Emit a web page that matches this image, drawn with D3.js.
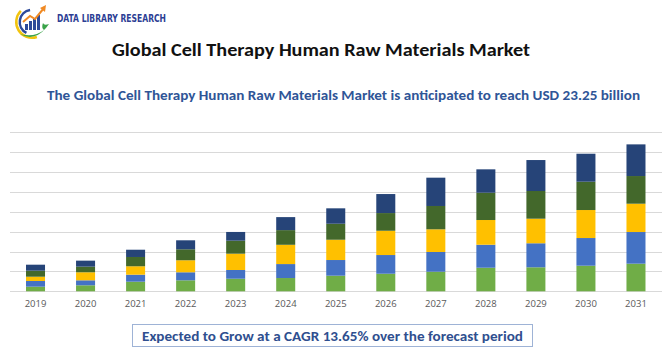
<!DOCTYPE html>
<html>
<head>
<meta charset="utf-8">
<script src="https://cdn.jsdelivr.net/npm/d3@7"></script>
<style>
  html, body { margin: 0; padding: 0; background: #fff; }
  svg { display: block; font-family: Carlito, Calibri, "Open Sans", "Liberation Sans", sans-serif; }
</style>
</head>
<body>
<div id="chart"></div>
<script>
// values in USD billion
var years = ['2019', '2020', '2021', '2022', '2023', '2024', '2025', '2026', '2027', '2028', '2029', '2030', '2031'];
var seriesNames = ['s1', 's2', 's3', 's4', 's5'];
var s1 = [0.73, 0.95, 1.52, 1.74, 1.99, 2.10, 2.47, 2.78, 3.10, 3.73, 3.80, 4.05, 4.37];
var s2 = [0.90, 0.79, 1.11, 1.27, 1.38, 2.21, 2.48, 2.96, 3.12, 3.64, 3.80, 4.38, 5.01];
var s3 = [0.68, 1.27, 1.33, 1.90, 2.58, 3.05, 3.21, 3.84, 3.59, 3.91, 3.89, 4.43, 4.48];
var s4 = [0.95, 0.89, 1.47, 1.74, 2.06, 2.32, 2.53, 2.80, 3.69, 4.32, 4.38, 4.48, 4.38];
var s5 = [0.95, 0.95, 1.15, 1.42, 1.38, 2.06, 2.44, 3.01, 4.48, 3.70, 4.90, 4.43, 5.01];
var colors = ['#70ad47', '#4472c4', '#ffc000', '#43682b', '#264478'];
var yMax = 25.16;

var width = 670, height = 350;

var svg = d3.select('#chart').append('svg')
    .attr('width', width)
    .attr('height', height);

// logo
var logo = svg.append('g').attr('transform', 'translate(32,22)');
logo.append('path')
    .attr('d', d3.arc()({innerRadius: 14.5, outerRadius: 17, startAngle: Math.PI * 0.9, endAngle: Math.PI * 1.75}))
    .attr('fill', '#f2c40f');
logo.append('path')
    .attr('d', d3.arc()({innerRadius: 11, outerRadius: 13.5, startAngle: Math.PI * 1.15, endAngle: Math.PI * 1.95}))
    .attr('fill', '#2d4a9a');
[[-7, 6], [-3, 9], [1, 12], [5, 15]].forEach(function(b) {
    logo.append('rect').attr('x', b[0]).attr('y', 8 - b[1]).attr('width', 3).attr('height', b[1]).attr('fill', '#2d4a9a');
});
logo.append('path')
    .attr('d', 'M-9,0 L-2,-6 L3,-3 L12,-14')
    .attr('fill', 'none').attr('stroke', '#f08a24').attr('stroke-width', 2);
logo.append('path').attr('d', 'M14,-17 L8,-14 L13,-10 Z').attr('fill', '#f08a24');
logo.append('path')
    .attr('d', 'M-12,12 Q2,20 14,6 L17,2 Q12,4 11,1 Q9,6 12,8 Q2,16 -12,12 Z')
    .attr('fill', '#3aa34a');

svg.append('text')
    .attr('x', 57).attr('y', 22)
    .attr('textLength', 109).attr('lengthAdjust', 'spacingAndGlyphs')
    .style('font-family', '"DejaVu Sans Condensed", "Liberation Sans Narrow", sans-serif')
    .style('font-weight', 'bold').style('font-size', '10.5px')
    .attr('fill', '#2c3e94')
    .text('DATA LIBRARY RESEARCH');

// title texts
svg.append('text')
    .attr('x', 112).attr('y', 56)
    .attr('textLength', 418).attr('lengthAdjust', 'spacingAndGlyphs')
    .style('font-weight', 'bold').style('font-size', '18px')
    .attr('fill', '#111')
    .text('Global Cell Therapy Human Raw Materials Market');

svg.append('text')
    .attr('x', 47).attr('y', 100)
    .attr('textLength', 593).attr('lengthAdjust', 'spacingAndGlyphs')
    .style('font-weight', 'bold').style('font-size', '14.5px')
    .attr('fill', '#2f5597')
    .text('The Global Cell Therapy Human Raw Materials Market is anticipated to reach USD 23.25  billion');

// chart
var x = d3.scaleBand().domain(years).range([10.5, 661]).paddingInner(0.62).paddingOuter(0.31);
var y = d3.scaleLinear().domain([0, yMax]).range([291.3, 132.3]);

svg.append('g').selectAll('line')
    .data(d3.range(0, 9).map(function(i) { return i * yMax / 8; }))
    .enter().append('line')
    .attr('x1', 10).attr('x2', 662)
    .attr('y1', function(d) { return Math.round(y(d)) + 0.5; })
    .attr('y2', function(d) { return Math.round(y(d)) + 0.5; })
    .attr('stroke', '#d9d9d9').attr('stroke-width', 1);

var table = years.map(function(yr, i) {
    return {year: yr, s1: s1[i], s2: s2[i], s3: s3[i], s4: s4[i], s5: s5[i]};
});
var stacked = d3.stack().keys(seriesNames)(table);

svg.append('g').selectAll('g')
    .data(stacked).enter().append('g')
    .attr('fill', function(d, i) { return colors[i]; })
    .selectAll('rect')
    .data(function(d) { return d; })
    .enter().append('rect')
    .attr('x', function(d) { return x(d.data.year); })
    .attr('width', x.bandwidth())
    .attr('y', function(d) { return y(d[1]); })
    .attr('height', function(d) { return y(d[0]) - y(d[1]); });

var xAxis = d3.axisBottom(x).tickSize(0).tickPadding(8);
var gx = svg.append('g')
    .attr('transform', 'translate(0,292)')
    .call(xAxis);
gx.select('.domain').remove();
gx.selectAll('text')
    .style('font-family', '"Open Sans", "Liberation Sans", sans-serif')
    .style('font-size', '9.5px')
    .attr('fill', '#595959');

// bottom box
svg.append('rect')
    .attr('x', 132.5).attr('y', 324.5)
    .attr('width', 400).attr('height', 22)
    .attr('fill', '#fff').attr('stroke', '#9eb3d6').attr('stroke-width', 1);

svg.append('text')
    .attr('x', 142).attr('y', 341)
    .attr('textLength', 381).attr('lengthAdjust', 'spacingAndGlyphs')
    .style('font-weight', 'bold').style('font-size', '14.5px')
    .attr('fill', '#2f4f8f')
    .text('Expected to Grow at a CAGR 13.65% over the forecast period');
</script>
</body>
</html>
